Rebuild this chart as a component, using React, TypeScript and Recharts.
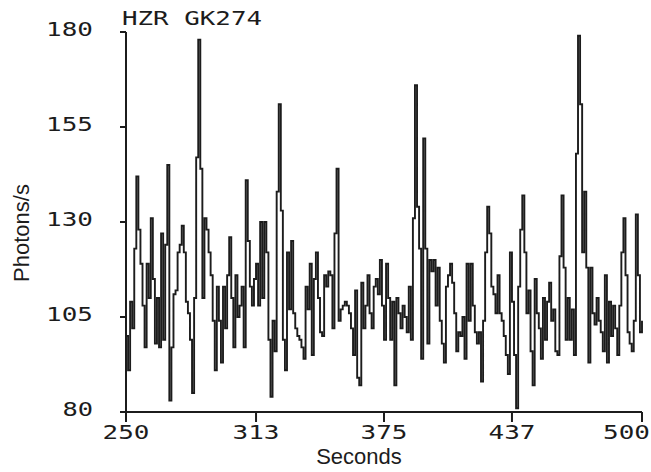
import React from 'react';
import { LineChart, Line, XAxis, YAxis, Label } from 'recharts';

// photon counts, one per second from t = 250 s
const START_SECOND = 250;
const photons = [
  100, 91, 109, 102, 123, 142, 128, 119, 108, 97,
  119, 110, 131, 115, 98, 110, 97, 127, 99, 124,
  145, 83, 97, 111, 112, 122, 124, 129, 122, 109,
  106, 99, 85, 110, 147, 178, 144, 110, 131, 128,
  122, 116, 104, 91, 113, 104, 93, 113, 102, 116,
  126, 110, 97, 116, 105, 108, 113, 97, 141, 125,
  113, 108, 115, 119, 108, 130, 110, 130, 122, 99,
  84, 104, 96, 138, 161, 133, 99, 91, 122, 107,
  125, 106, 102, 100, 99, 97, 94, 113, 107, 119,
  95, 115, 122, 110, 101, 100, 116, 113, 117, 116,
  102, 127, 144, 104, 107, 108, 109, 108, 106, 102,
  95, 112, 89, 87, 114, 102, 108, 116, 106, 102,
  113, 115, 111, 120, 108, 99, 119, 110, 99, 109,
  87, 110, 106, 102, 108, 105, 101, 113, 99, 131,
  166, 134, 123, 94, 152, 123, 98, 120, 117, 120,
  108, 118, 104, 98, 93, 113, 116, 119, 114, 106,
  96, 101, 100, 105, 94, 119, 104, 119, 108, 101,
  98, 101, 88, 104, 122, 134, 127, 113, 111, 106,
  116, 106, 104, 100, 95, 90, 122, 109, 95, 81,
  113, 128, 137, 122, 106, 112, 96, 87, 115, 106,
  102, 94, 110, 99, 109, 114, 104, 107, 96, 95,
  121, 137, 118, 99, 110, 99, 107, 95, 148, 179,
  161, 122, 138, 118, 93, 118, 106, 103, 110, 104,
  101, 96, 116, 93, 109, 100, 108, 102, 95, 108,
  122, 131, 116, 101, 98, 96, 104, 132, 116, 101,
  104,
];

const xTicks = [250, 313, 375, 437, 500];
const yTicks = [80, 105, 130, 155, 180];

const data = photons.map((v, i) => ({ t: START_SECOND + i, v }));

const INK = '#1c1c1c';
const MONO = '"DejaVu Sans Mono", monospace';
const SANS = '"Liberation Sans", Arial, sans-serif';
const CHAR_W = 16.3;

function XTick({ x, y, payload }: any) {
  const s = String(payload.value);
  const w = s.length * CHAR_W - 2;
  // keep the last label inside the frame, like the original plot
  const cx = Math.min(x, 650 - w / 2);
  return (
    <text x={cx} y={y + 15} textAnchor="middle" fontFamily={MONO} fontSize={19} fill={INK}
      textLength={w} lengthAdjust="spacingAndGlyphs">
      {s}
    </text>
  );
}

function YTick({ x, y, payload }: any) {
  const s = String(payload.value);
  return (
    <text x={x} y={y + 4} textAnchor="end" fontFamily={MONO} fontSize={19} fill={INK}
      textLength={s.length * CHAR_W - 2} lengthAdjust="spacingAndGlyphs">
      {s}
    </text>
  );
}

export default function App() {
  return (
    <div style={{ position: 'absolute', left: 0, top: 0, background: '#fff' }}>
      <LineChart width={651} height={472} data={data} margin={{ top: 32, right: 9, bottom: 0, left: 0 }}>
        <XAxis
          dataKey="t"
          type="number"
          domain={[250, 500]}
          ticks={xTicks}
          interval={0}
          height={60}
          tick={<XTick />}
          tickSize={10}
          tickMargin={2}
          axisLine={{ stroke: INK, strokeWidth: 2 }}
          tickLine={{ stroke: INK, strokeWidth: 2 }}
        >
          <Label
            content={({ viewBox }: any) => (
              <text x={viewBox.x + 233} y={viewBox.y + 52} textAnchor="middle" fontFamily={SANS} fontSize={22} fill={INK}>
                Seconds
              </text>
            )}
          />
        </XAxis>
        <YAxis
          type="number"
          domain={[80, 180]}
          ticks={yTicks}
          interval={0}
          width={126}
          tick={<YTick />}
          tickSize={6}
          tickMargin={27}
          axisLine={{ stroke: INK, strokeWidth: 2 }}
          tickLine={{ stroke: INK, strokeWidth: 2 }}
        >
          <Label
            content={() => (
              <g>
                <text x={0} y={0} transform="translate(29 233) rotate(-90)" textAnchor="middle" fontFamily={SANS} fontSize={22} fill={INK}>
                  Photons/s
                </text>
                <text x={122} y={25} fontFamily={MONO} fontSize={19} fill={INK}
                  textLength={140} lengthAdjust="spacingAndGlyphs">
                  HZR GK274
                </text>
              </g>
            )}
          />
        </YAxis>
        <Line
          type="stepAfter"
          dataKey="v"
          stroke={INK}
          strokeWidth={1.9}
          dot={false}
          isAnimationActive={false}
        />
      </LineChart>
    </div>
  );
}
